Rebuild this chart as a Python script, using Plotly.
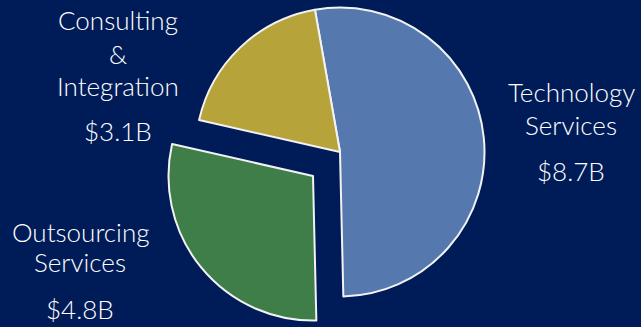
import plotly.graph_objects as go

# ---- data ----
labels = ["Technology Services", "Outsourcing Services", "Consulting & Integration"]
values = [8.7, 4.8, 3.1]
label_lines = [["Technology", "Services"], ["Outsourcing", "Services"], ["Consulting", "&", "Integration"]]
colors = ["#5579ae", "#3f7e49", "#b6a33a"]
pulled = [False, True, False]

BG = "#001c58"
W, H = 641, 327
TRANSPARENT = "rgba(0,0,0,0)"

def box(cx, cy, r):
    return dict(x=[(cx - r) / W, (cx + r) / W],
                y=[(H - cy - r) / H, (H - cy + r) / H])

R = 144.5
main_dom = box(340, 152, R)
pull_dom = box(313, 176, R)

fig = go.Figure()
fig.add_trace(go.Pie(
    labels=labels, values=values, sort=False, direction="clockwise", rotation=-10,
    marker=dict(colors=[TRANSPARENT if p else c for c, p in zip(colors, pulled)],
                line=dict(color=[TRANSPARENT if p else "#f2f2f2" for p in pulled],
                          width=[0 if p else 2 for p in pulled])),
    textinfo="none", hoverinfo="label+value", showlegend=False, domain=main_dom,
))
fig.add_trace(go.Pie(
    labels=labels, values=values, sort=False, direction="clockwise", rotation=-10,
    marker=dict(colors=[c if p else TRANSPARENT for c, p in zip(colors, pulled)],
                line=dict(color=["#f2f2f2" if p else TRANSPARENT for p in pulled],
                          width=[2 if p else 0 for p in pulled])),
    textinfo="none", hoverinfo="label+value", showlegend=False, domain=pull_dom,
))

# label placement (layout): x center, y of each line, y of value
label_pos = [
    (571, [92, 125], 171),
    (80, [232, 262], None),
    (118, [20, 54, 86], 131),
]
font = dict(family="Lato, 'Open Sans', sans-serif", size=26, color="white", weight=300)
anns = []
for lines, val, (x, ys, yv) in zip(label_lines, values, label_pos):
    for t, y in zip(lines, ys):
        anns.append(dict(x=x / W, y=1 - y / H, xref="paper", yref="paper", text=t,
                         showarrow=False, xanchor="center", yanchor="middle", font=font))
    vt = f"${val:.1f}B"
    if yv is None:
        anns.append(dict(x=x / W, y=0, xref="paper", yref="paper", text=vt,
                         showarrow=False, xanchor="center", yanchor="bottom", font=font))
    else:
        anns.append(dict(x=x / W, y=1 - yv / H, xref="paper", yref="paper", text=vt,
                         showarrow=False, xanchor="center", yanchor="middle", font=font))

fig.update_layout(
    width=W, height=H, margin=dict(l=0, r=0, t=0, b=0),
    paper_bgcolor=BG, plot_bgcolor=BG, annotations=anns,
)
fig.write_html("out.html")
